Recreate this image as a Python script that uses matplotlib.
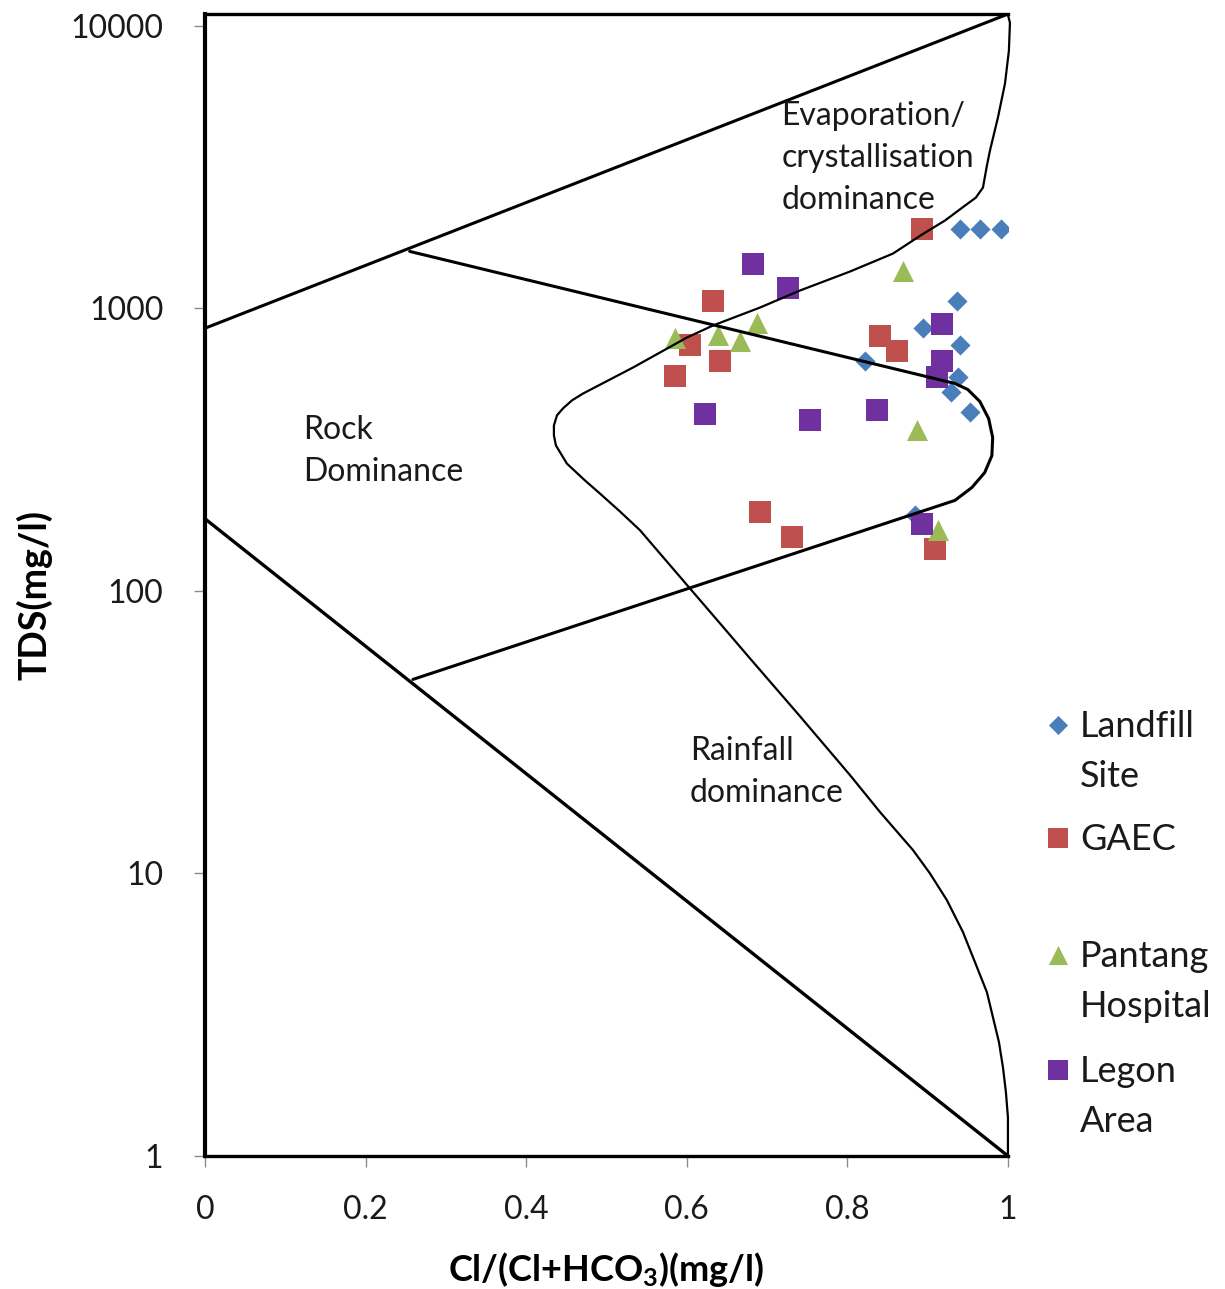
import matplotlib.pyplot as plt
from matplotlib.ticker import NullLocator

# Gibbs diagram: TDS against Cl/(Cl+HCO3) for four sampling areas

# sample points
landfill_x = [0.940, 0.965, 0.991, 0.936, 0.894, 0.940, 0.822, 0.938, 0.929, 0.953, 0.884]
landfill_tds = [1915, 1915, 1915, 1065, 855, 739, 653, 569, 504, 428, 185]

gaec_x = [0.893, 0.633, 0.604, 0.641, 0.585, 0.841, 0.862, 0.691, 0.731, 0.909]
gaec_tds = [1915, 1065, 739, 653, 578, 801, 709, 190, 155, 141]

pantang_x = [0.869, 0.687, 0.639, 0.666, 0.585, 0.887, 0.913]
pantang_tds = [1360, 890, 807, 763, 788, 370, 164]

legon_x = [0.682, 0.726, 0.918, 0.918, 0.912, 0.623, 0.753, 0.837, 0.893]
legon_tds = [1440, 1184, 883, 653, 569, 421, 404, 438, 173]

# envelope lines of the diagram
upper_edge_x = [0, 1]
upper_edge_tds = [850, 11000]
lower_edge_x = [0, 1]
lower_edge_tds = [180, 1]

# rock dominance wedge (upper arm, rounded tip, lower arm)
rock_x = [0.255, 0.934, 0.950, 0.965, 0.976, 0.981, 0.980, 0.971, 0.955, 0.934, 0.259]
rock_tds = [1590, 542, 516, 468, 407, 349, 301, 262, 232, 209, 48.6]

# boomerang shaped outer curve
curve_x = [1.000, 1.0025, 1.0012, 0.9963, 0.9875, 0.9776, 0.9738, 0.9689, 0.960,
           0.9465, 0.9215, 0.8929, 0.8568, 0.8032, 0.7410, 0.6912, 0.6326, 0.6002,
           0.5330, 0.5019, 0.4707, 0.4570, 0.4458, 0.4384, 0.4346, 0.4346, 0.4371,
           0.4508, 0.4732, 0.4919, 0.5168, 0.5417, 0.6040, 0.6413, 0.6787, 0.7410,
           0.8032, 0.8406, 0.8817, 0.9029, 0.9240, 0.9440, 0.9614, 0.9738, 0.9813,
           0.9888, 0.9938, 0.9975, 1.000, 1.000]
curve_tds = [10937, 10247, 8158, 6234, 4727, 3614, 3197, 2674, 2464,
             2309, 2044, 1823, 1562, 1349, 1156, 1006, 869, 788,
             617, 555, 499, 472, 442, 418, 385, 355, 327,
             282, 246, 221, 191, 164, 102, 76.8, 57.7, 36.0,
             22.3, 16.5, 12.1, 10.0, 8.04, 6.20, 4.66, 3.80, 3.10,
             2.53, 2.06, 1.68, 1.37, 1.0]

yticks = [1, 10, 100, 1000, 10000]
ytick_labels = ["1", "10", "100", "1000", "10000"]
xticks = [0, 0.2, 0.4, 0.6, 0.8, 1]
xtick_labels = ["0", "0.2", "0.4", "0.6", "0.8", "1"]

series = [
    ("Landfill\nSite", landfill_x, landfill_tds, "D", "#4A7EBB", 105),
    ("GAEC", gaec_x, gaec_tds, "s", "#C0504D", 245),
    ("Pantang\nHospital", pantang_x, pantang_tds, "^", "#9BBB59", 230),
    ("Legon\nArea", legon_x, legon_tds, "s", "#7030A0", 245),
]

plt.rcParams["font.family"] = ["Lato", "DejaVu Sans"]
plt.rcParams["mathtext.default"] = "regular"

fig = plt.figure(figsize=(12.25, 12.89), dpi=100)
ax = fig.add_axes([0.1673, 0.1032, 0.6555, 0.8859])

for label, xs, ys, mk, col, size in series:
    ax.scatter(xs, ys, marker=mk, s=size, color=col, linewidths=0, zorder=2)

line_kw = dict(color="black", solid_joinstyle="round", solid_capstyle="round", zorder=3)
ax.plot(upper_edge_x, upper_edge_tds, lw=2.2, **line_kw)
ax.plot(lower_edge_x, lower_edge_tds, lw=2.4, **line_kw)
ax.plot(rock_x, rock_tds, lw=2.2, **line_kw)
ax.plot(curve_x, curve_tds, lw=1.6, clip_on=False, **line_kw)

ax.set_yscale("log")
ax.set_xlim(0, 1)
ax.set_ylim(1, 11000)
ax.set_yticks(yticks)
ax.set_yticklabels(ytick_labels)
ax.yaxis.set_minor_locator(NullLocator())
ax.set_xticks(xticks)
ax.set_xticklabels(xtick_labels)

ax.spines["right"].set_visible(False)
ax.spines["left"].set_linewidth(3)
ax.spines["bottom"].set_linewidth(2.4)
ax.spines["top"].set_linewidth(2.4)
ax.tick_params(axis="both", length=8, width=1, color="#8c8c8c", labelsize=23,
               labelcolor="#1a1a1a")
ax.tick_params(axis="y", pad=22)
ax.tick_params(axis="x", pad=20)

ax.set_xlabel("Cl/(Cl+HCO$_3$)(mg/l)", fontsize=26, fontweight="bold")
ax.set_ylabel("TDS(mg/l)", fontsize=27, fontweight="bold")
ax.xaxis.set_label_coords(0.5, -0.082)
ax.yaxis.set_label_coords(-0.19, 0.491)

# region names
region_kw = dict(transform=ax.transAxes, fontsize=23, color="#1a1a1a",
                 ha="left", va="center", linespacing=1.5)
ax.text(0.122, 0.617, "Rock\nDominance", **region_kw)
ax.text(0.718, 0.874, "Evaporation/\ncrystallisation\ndominance", **region_kw)
ax.text(0.604, 0.336, "Rainfall\ndominance", **region_kw)

# legend to the right of the plot
legend_rows = [0.4375, 0.3498, 0.2591, 0.1699]
legend_sizes = [95, 200, 190, 200]
for (label, xs, ys, mk, col, size), yrow, lsize in zip(series, legend_rows, legend_sizes):
    ax.scatter([0.8637], [yrow], marker=mk, s=lsize, color=col, linewidths=0,
               transform=fig.transFigure, clip_on=False)
    fig.text(0.8816, yrow + 0.0115, label, fontsize=26, color="#1a1a1a",
             ha="left", va="top", linespacing=1.62)

fig.savefig("out.png", dpi=100)
